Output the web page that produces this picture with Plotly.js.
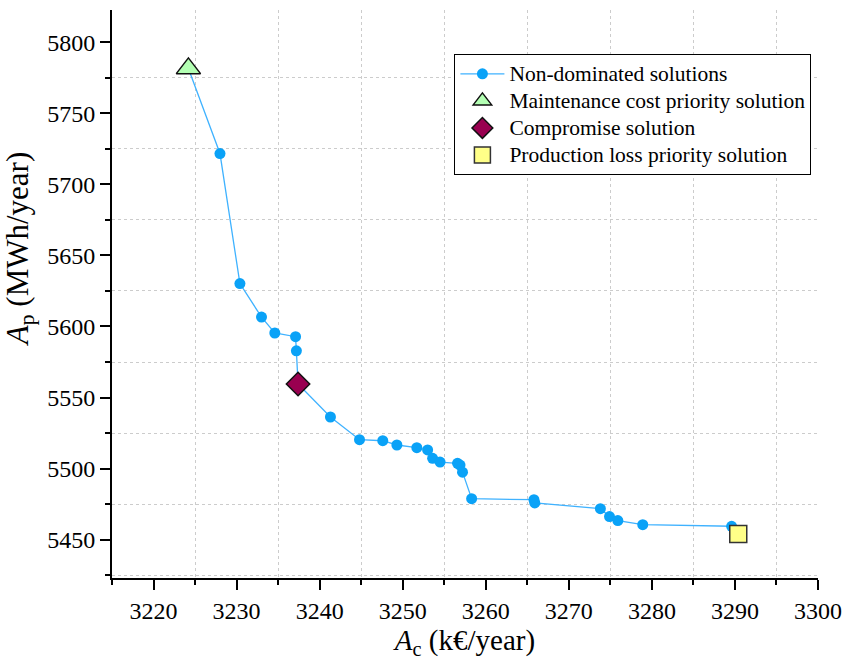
<!DOCTYPE html>
<html>
<head>
<meta charset="utf-8">
<script src="https://cdn.plot.ly/plotly-3.0.1.min.js"></script>
<style>html,body{margin:0;padding:0;background:#fff;}#chart{width:848px;height:665px;}</style>
</head>
<body>
<div id="chart"></div>
<script>
// Non-dominated solutions (Pareto front)
const costAc = [3224.2, 3228.0, 3230.4, 3233.0, 3234.6, 3237.1, 3237.2, 3237.4, 3241.3, 3244.8, 3247.6, 3249.3, 3251.7, 3253.0, 3253.6, 3254.5, 3256.6, 3256.9, 3257.2, 3258.3, 3265.8, 3265.9, 3273.8, 3274.9, 3275.9, 3278.9, 3289.6];
const lossAp = [5781.6, 5721.7, 5630.2, 5606.6, 5595.4, 5592.8, 5582.9, 5559.5, 5536.3, 5520.3, 5519.6, 5516.6, 5514.7, 5513.1, 5507.2, 5504.6, 5503.7, 5502.5, 5497.5, 5478.8, 5478.1, 5475.8, 5471.8, 5466.2, 5463.4, 5460.5, 5459.4];
// Special solutions
const maintX = [3224.2], maintY = [5781.6];
const compX = [3237.4], compY = [5559.5];
const prodX = [3290.4], prodY = [5454.0];
const seriesNames = ["Non-dominated solutions", "Maintenance cost priority solution", "Compromise solution", "Production loss priority solution"];
const xTitle = "<i>A</i><sub>c</sub> (k€/year)";
const yTitle = "<i>A</i><sub>p</sub> (MWh/year)";

const font = "Liberation Serif";
const lgName = s => '<span style="font-size:21.5px">' + s + '</span>';

const traces = [
  {x: costAc, y: lossAp, name: lgName(seriesNames[0]), type: "scatter", mode: "lines+markers",
   line: {color: "#3fb2ff", width: 1.3},
   marker: {color: "#0aa2f7", size: 11, symbol: "circle"}},
  {x: maintX, y: maintY, name: lgName(seriesNames[1]), type: "scatter", mode: "markers",
   marker: {color: "#b3ffb3", size: 21, symbol: "triangle-up", line: {color: "#111", width: 1.5}}},
  {x: compX, y: compY, name: lgName(seriesNames[2]), type: "scatter", mode: "markers",
   marker: {color: "#990050", size: 18, symbol: "diamond", line: {color: "#111", width: 1.5}}},
  {x: prodX, y: prodY, name: lgName(seriesNames[3]), type: "scatter", mode: "markers",
   marker: {color: "#ffff88", size: 17, symbol: "square", line: {color: "#333", width: 1.5}}}
];

const layout = {
  width: 848, height: 665,
  margin: {l: 112, r: 30, t: 10, b: 87},
  paper_bgcolor: "#fff", plot_bgcolor: "#fff",
  font: {family: font, color: "#000", size: 24},
  showlegend: true,
  legend: {x: 0.485, y: 0.922, xanchor: "left", yanchor: "top",
           bordercolor: "#000", borderwidth: 1, bgcolor: "#fff", itemwidth: 44,
           font: {family: font, size: 18.5, color: "#000"}, tracegroupgap: 0},
  xaxis: {
    range: [3215, 3300], tick0: 3220, dtick: 10,
    showline: true, linecolor: "#000", linewidth: 2,
    ticks: "outside", ticklen: 10, tickwidth: 2, tickcolor: "#000",
    showgrid: false, zeroline: false,
    tickfont: {family: font, size: 24, color: "#000"},
    minor: {tick0: 3215, dtick: 5, ticks: "outside", ticklen: 5, tickwidth: 2, tickcolor: "#000",
            showgrid: true, gridcolor: "#cccccc", gridwidth: 1, griddash: "3px,3px"},
    title: {text: xTitle, font: {family: font, size: 29, color: "#000"}, standoff: 6}
  },
  yaxis: {
    range: [5423, 5822.7], tick0: 5450, dtick: 50,
    showline: true, linecolor: "#000", linewidth: 2,
    ticks: "outside", ticklen: 10, tickwidth: 2, tickcolor: "#000",
    showgrid: false, zeroline: false,
    tickfont: {family: font, size: 24, color: "#000"},
    minor: {tick0: 5425, dtick: 25, ticks: "outside", ticklen: 5, tickwidth: 2, tickcolor: "#000",
            showgrid: true, gridcolor: "#cccccc", gridwidth: 1, griddash: "3px,3px"}
  },
  annotations: [
    {text: yTitle, xref: "paper", yref: "paper", x: -0.131, y: 0.578,
     xanchor: "center", yanchor: "middle", textangle: -90, showarrow: false,
     font: {family: font, size: 31, color: "#000"}}
  ]
};

Plotly.newPlot("chart", traces, layout, {displayModeBar: false, staticPlot: true});
</script>
</body>
</html>
